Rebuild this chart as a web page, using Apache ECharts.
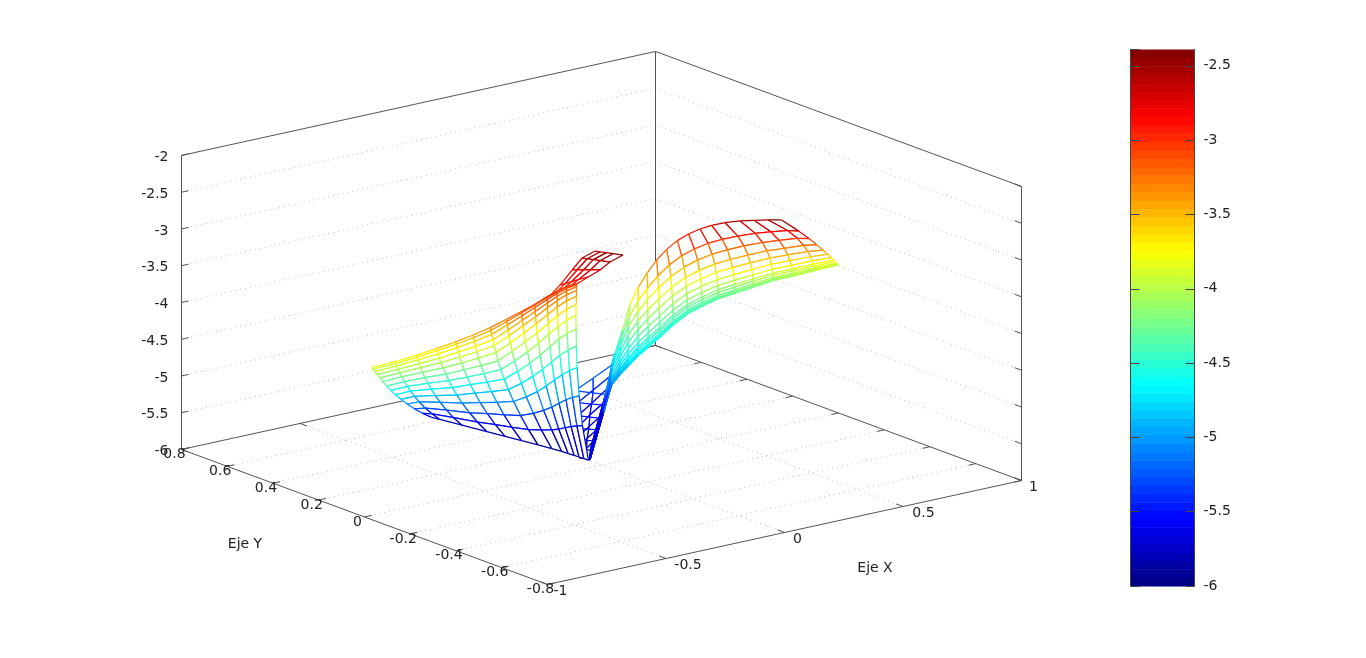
<!DOCTYPE html><html><head><meta charset="utf-8"><style>html,body{margin:0;background:#fff}#c{width:1366px;height:658px}</style>
<script src="https://cdn.jsdelivr.net/npm/echarts@6/dist/echarts.min.js"></script></head><body><div id="c"></div><script>
const zTicks=[-2,-2.5,-3,-3.5,-4,-4.5,-5,-5.5,-6];
const xTicks=[-1,-0.5,0,0.5,1];
const yTicks=[0.8,0.6,0.4,0.2,0,-0.2,-0.4,-0.6,-0.8];
const colorbarMin=-6,colorbarMax=-2.39;
const leftRows=14;
const leftX=[-1.015,-1.003,-.979,-.953,-.922,-.883,-.840,-.787,-.732,-.666,-.588,-.488,-.382,-.266,
-.965,-.950,-.929,-.901,-.869,-.830,-.782,-.730,-.677,-.609,-.536,-.443,-.345,-.233,
-.913,-.894,-.870,-.841,-.808,-.768,-.721,-.669,-.613,-.553,-.478,-.391,-.294,-.189,
-.854,-.832,-.805,-.774,-.739,-.703,-.656,-.605,-.550,-.492,-.426,-.338,-.252,-.154,
-.818,-.793,-.763,-.729,-.692,-.650,-.603,-.552,-.503,-.442,-.374,-.298,-.213,-.124,
-.767,-.738,-.705,-.668,-.630,-.587,-.539,-.489,-.441,-.382,-.322,-.246,-.172,-.090,
-.719,-.681,-.645,-.606,-.571,-.528,-.481,-.431,-.379,-.328,-.267,-.202,-.135,-.061,
-.672,-.644,-.610,-.575,-.535,-.493,-.450,-.401,-.352,-.301,-.248,-.179,-.114,-.040,
-.627,-.601,-.574,-.537,-.501,-.460,-.415,-.371,-.324,-.279,-.223,-.157,-.096,-.024,
-.576,-.558,-.528,-.493,-.460,-.425,-.381,-.337,-.297,-.250,-.197,-.138,-.082,-.017,
-.518,-.502,-.474,-.441,-.412,-.370,-.333,-.293,-.253,-.210,-.169,-.118,-.066,-.009,
-.450,-.433,-.413,-.382,-.350,-.317,-.274,-.239,-.203,-.167,-.131,-.090,-.047,-.002,
-.395,-.382,-.359,-.331,-.301,-.265,-.232,-.193,-.160,-.129,-.103,-.071,-.038,-.001,
-.318,-.309,-.285,-.260,-.233,-.200,-.166,-.139,-.109,-.084,-.067,-.048,-.029,.001];
const leftY=[-.047,-.040,-.023,-.006,.014,.041,.068,.105,.142,.187,.240,.311,.386,.467,
-.097,-.085,-.067,-.044,-.019,.013,.051,.093,.133,.186,.241,.310,.383,.465,
-.138,-.121,-.100,-.075,-.047,-.014,.024,.065,.109,.153,.209,.272,.342,.414,
-.164,-.144,-.121,-.094,-.064,-.037,.000,.040,.081,.122,.167,.226,.281,.341,
-.212,-.188,-.160,-.130,-.098,-.063,-.024,.015,.051,.095,.142,.190,.243,.293,
-.234,-.206,-.175,-.142,-.108,-.071,-.033,.007,.042,.085,.123,.171,.213,.256,
-.260,-.223,-.189,-.154,-.123,-.085,-.046,-.007,.032,.067,.107,.144,.179,.214,
-.281,-.254,-.221,-.188,-.150,-.113,-.076,-.036,.002,.038,.071,.112,.144,.176,
-.301,-.274,-.248,-.211,-.176,-.138,-.097,-.061,-.023,.011,.049,.090,.118,.149,
-.307,-.287,-.257,-.221,-.189,-.155,-.114,-.074,-.040,-.002,.037,.074,.102,.128,
-.299,-.283,-.255,-.221,-.191,-.149,-.113,-.073,-.037,-.000,.030,.063,.090,.110,
-.274,-.256,-.235,-.203,-.170,-.135,-.092,-.058,-.024,.009,.036,.062,.084,.096,
-.257,-.243,-.220,-.190,-.159,-.122,-.088,-.048,-.016,.012,.033,.053,.068,.076,
-.221,-.212,-.187,-.160,-.132,-.098,-.061,-.032,-.002,.023,.037,.048,.053,.058];
const leftZ=[-3.9,-3.94,-4.01,-4.09,-4.18,-4.29,-4.41,-4.55,-4.69,-4.85,-5.03,-5.25,-5.47,-5.7,
-3.8,-3.85,-3.92,-4.01,-4.11,-4.23,-4.37,-4.52,-4.67,-4.85,-5.04,-5.27,-5.5,-5.75,
-3.7,-3.76,-3.84,-3.94,-4.05,-4.18,-4.33,-4.49,-4.66,-4.84,-5.05,-5.29,-5.54,-5.8,
-3.62,-3.69,-3.78,-3.89,-4.01,-4.14,-4.3,-4.47,-4.65,-4.84,-5.05,-5.31,-5.56,-5.83,
-3.5,-3.58,-3.68,-3.8,-3.93,-4.08,-4.25,-4.43,-4.61,-4.82,-5.05,-5.31,-5.58,-5.86,
-3.42,-3.51,-3.62,-3.75,-3.89,-4.05,-4.23,-4.42,-4.61,-4.83,-5.06,-5.34,-5.61,-5.9,
-3.32,-3.43,-3.55,-3.69,-3.83,-4,-4.19,-4.39,-4.6,-4.82,-5.07,-5.35,-5.63,-5.93,
-3.22,-3.3,-3.41,-3.54,-3.69,-3.86,-4.05,-4.26,-4.48,-4.72,-4.98,-5.3,-5.61,-5.95,
-3.12,-3.19,-3.28,-3.41,-3.55,-3.72,-3.92,-4.13,-4.36,-4.61,-4.9,-5.25,-5.59,-5.97,
-3.05,-3.1,-3.19,-3.31,-3.44,-3.6,-3.8,-4.02,-4.25,-4.52,-4.83,-5.2,-5.57,-5.98,
-3,-3.04,-3.12,-3.23,-3.35,-3.52,-3.71,-3.93,-4.17,-4.45,-4.76,-5.15,-5.55,-5.99,
-3,-3.04,-3.1,-3.2,-3.32,-3.47,-3.67,-3.88,-4.12,-4.4,-4.72,-5.12,-5.54,-6,
-3,-3.03,-3.09,-3.18,-3.29,-3.44,-3.62,-3.84,-4.08,-4.36,-4.68,-5.09,-5.52,-6,
-3.05,-3.07,-3.13,-3.21,-3.31,-3.45,-3.63,-3.83,-4.07,-4.35,-4.67,-5.08,-5.51,-6];
const rightRows=13;
const rightX=[.336,.465,.560,.646,.720,.786,.835,.877,.896,.921,.937,.946,.954,
.327,.471,.562,.644,.706,.760,.803,.831,.850,.869,.881,.888,.894,
.313,.444,.530,.604,.661,.709,.748,.778,.796,.813,.824,.829,.835,
.298,.418,.503,.571,.627,.671,.706,.734,.750,.765,.776,.781,.785,
.272,.384,.461,.522,.573,.618,.650,.675,.689,.709,.718,.722,.727,
.260,.361,.426,.481,.528,.571,.600,.623,.637,.650,.659,.663,.667,
.240,.326,.391,.443,.487,.522,.550,.572,.585,.598,.606,.610,.614,
.226,.303,.353,.400,.437,.469,.495,.511,.523,.535,.543,.547,.551,
.228,.289,.330,.365,.399,.420,.445,.455,.467,.474,.481,.485,.488,
.190,.238,.274,.300,.326,.350,.363,.378,.384,.395,.396,.400,.403,
.140,.176,.203,.226,.250,.267,.279,.287,.298,.303,.305,.308,.311,
.104,.130,.153,.173,.188,.202,.215,.224,.225,.231,.238,.237,.240,
.080,.104,.123,.138,.149,.161,.173,.180,.188,.190,.193,.192,.196,
.089,.101,.106,.118,.123,.131,.136,.141,.140,.145,.149,.149,.148,
.102,.099,.100,.106,.104,.108,.112,.113,.112,.115,.112,.113,.114,
.098,.088,.083,.081,.080,.077,.074,.076,.073,.075,.074,.071,.073,
.134,.113,.100,.091,.080,.078,.069,.064,.063,.062,.058,.061,.059,
.057,.041,.031,.025,.018,.018,.011,.008,.007,.007,.004,.007,.005];
const rightY=[-.439,-.381,-.327,-.272,-.222,-.174,-.139,-.106,-.092,-.073,-.060,-.054,-.047,
-.390,-.325,-.273,-.216,-.170,-.126,-.089,-.065,-.048,-.030,-.019,-.013,-.007,
-.342,-.280,-.227,-.174,-.130,-.089,-.055,-.028,-.011,.005,.016,.021,.026,
-.297,-.239,-.182,-.132,-.086,-.047,-.015,.011,.027,.042,.053,.058,.063,
-.258,-.198,-.145,-.099,-.057,-.016,.013,.037,.052,.071,.080,.085,.089,
-.212,-.154,-.109,-.065,-.025,.014,.041,.064,.077,.090,.099,.103,.107,
-.182,-.128,-.078,-.036,.004,.035,.062,.084,.096,.109,.117,.121,.125,
-.146,-.092,-.054,-.013,.019,.050,.075,.090,.102,.114,.122,.126,.130,
-.095,-.051,-.019,.011,.043,.062,.087,.096,.108,.114,.122,.126,.129,
-.088,-.050,-.019,.004,.029,.052,.064,.078,.084,.095,.097,.100,.104,
-.096,-.064,-.039,-.017,.007,.023,.035,.043,.054,.059,.060,.063,.067,
-.093,-.066,-.042,-.023,-.007,.006,.019,.029,.029,.035,.042,.041,.044,
-.078,-.051,-.031,-.015,-.005,.008,.019,.026,.034,.036,.039,.038,.042,
-.032,-.015,-.007,.006,.012,.019,.025,.029,.029,.033,.037,.037,.036,
.013,.017,.021,.029,.028,.032,.036,.037,.035,.039,.036,.037,.038,
.043,.041,.039,.039,.039,.036,.033,.035,.031,.033,.032,.029,.032,
.109,.099,.091,.084,.075,.074,.065,.059,.058,.057,.052,.055,.053,
.087,.083,.078,.074,.068,.069,.062,.059,.058,.058,.054,.058,.056];
const rightZ=[-2.4,-2.71,-2.94,-3.15,-3.33,-3.49,-3.61,-3.71,-3.76,-3.82,-3.86,-3.88,-3.9,
-2.45,-2.77,-3,-3.22,-3.4,-3.56,-3.69,-3.78,-3.84,-3.9,-3.94,-3.96,-3.98,
-2.5,-2.82,-3.06,-3.28,-3.46,-3.62,-3.75,-3.85,-3.91,-3.97,-4.01,-4.03,-4.05,
-2.55,-2.87,-3.12,-3.34,-3.53,-3.69,-3.82,-3.92,-3.98,-4.04,-4.08,-4.1,-4.12,
-2.6,-2.93,-3.18,-3.4,-3.59,-3.76,-3.89,-3.99,-4.05,-4.12,-4.16,-4.18,-4.2,
-2.68,-3.01,-3.25,-3.47,-3.66,-3.83,-3.96,-4.06,-4.12,-4.18,-4.22,-4.24,-4.26,
-2.75,-3.07,-3.32,-3.54,-3.73,-3.89,-4.02,-4.12,-4.18,-4.24,-4.28,-4.3,-4.32,
-2.85,-3.17,-3.4,-3.62,-3.8,-3.96,-4.09,-4.18,-4.24,-4.3,-4.34,-4.36,-4.38,
-3,-3.3,-3.52,-3.72,-3.9,-4.04,-4.17,-4.25,-4.31,-4.36,-4.4,-4.42,-4.44,
-3.1,-3.39,-3.61,-3.8,-3.97,-4.12,-4.23,-4.32,-4.37,-4.43,-4.46,-4.48,-4.5,
-3.2,-3.48,-3.69,-3.88,-4.05,-4.19,-4.3,-4.38,-4.44,-4.49,-4.52,-4.54,-4.56,
-3.35,-3.61,-3.81,-3.99,-4.14,-4.27,-4.38,-4.46,-4.5,-4.55,-4.59,-4.6,-4.62,
-3.55,-3.79,-3.97,-4.13,-4.26,-4.38,-4.48,-4.55,-4.6,-4.64,-4.67,-4.68,-4.7,
-3.85,-4.05,-4.19,-4.33,-4.44,-4.54,-4.62,-4.68,-4.71,-4.75,-4.78,-4.79,-4.8,
-4.25,-4.38,-4.48,-4.58,-4.65,-4.72,-4.78,-4.82,-4.84,-4.87,-4.88,-4.89,-4.9,
-4.6,-4.68,-4.74,-4.8,-4.85,-4.89,-4.92,-4.95,-4.96,-4.98,-4.99,-4.99,-5,
-5.2,-5.24,-5.27,-5.3,-5.32,-5.35,-5.36,-5.37,-5.38,-5.39,-5.39,-5.4,-5.4,
-5.8,-5.84,-5.87,-5.9,-5.92,-5.95,-5.96,-5.97,-5.98,-5.99,-5.99,-6,-6];
const lowRows=3;
const lowX=[.056,.204,.374,.044,.200,.346,.017,.153,.302,-.014,.117,.252,-.033,.084,.201,-.050,.048,.149,-.042,.027,.109,-.025,-.012,-.011];
const lowY=[.181,.248,.329,.161,.243,.319,.126,.201,.286,.094,.172,.246,.075,.141,.207,.054,.112,.168,.057,.093,.142,.068,.060,.039];
const lowZ=[-5.25,-5.25,-5.25,-5.4,-5.4,-5.4,-5.5,-5.5,-5.5,-5.6,-5.6,-5.6,-5.7,-5.7,-5.7,-5.8,-5.8,-5.8,-5.9,-5.9,-5.9,-5.97,-5.97,-5.97];
const capRows=5;
const capX=[-.335,-.324,-.315,-.309,-.301,-.367,-.356,-.347,-.341,-.333,-.371,-.371,-.368,-.369,-.366,-.374,-.394,-.406,-.419,-.427,-.375,-.421,-.449,-.478,-.499];
const capY=[-.441,-.387,-.347,-.314,-.284,-.417,-.363,-.323,-.290,-.260,-.378,-.335,-.302,-.275,-.251,-.329,-.306,-.288,-.275,-.261,-.281,-.284,-.282,-.284,-.283];
const capZ=[-2.4,-2.45,-2.49,-2.52,-2.55,-2.5,-2.55,-2.59,-2.62,-2.65,-2.65,-2.7,-2.74,-2.77,-2.8,-2.8,-2.85,-2.89,-2.92,-2.95,-2.95,-2.98,-3.01,-3.03,-3.05];
const rungX=[.116,.175,.091,.145,.053,.096,.014,.058,-.017,.026,-.034,.007];
const rungY=[.243,.163,.203,.142,.160,.102,.121,.074,.088,.051,.068,.043];
const rungZ=[-5.35,-5.35,-5.45,-5.45,-5.55,-5.55,-5.65,-5.65,-5.75,-5.75,-5.85,-5.85];

const P=(x,y,z)=>[547.5+237*(x+1)-228.75*(y+0.8),584.5-52*(x+1)-84.4*(y+0.8)-73.5*(z+6)];
function jet(i){const t=(i+.5)/64,c=v=>Math.round(255*Math.max(0,Math.min(1,v)));return `rgb(${c(1.5-Math.abs(4*t-3))},${c(1.5-Math.abs(4*t-2))},${c(1.5-Math.abs(4*t-1))})`}
const colorOf=z=>jet(Math.max(0,Math.min(63,Math.floor((z-colorbarMin)/(colorbarMax-colorbarMin)*64))));
const qs=(X,Y,Z,n)=>{const q=[],m=X.length/n,V=(i,j)=>{const k=i*n+j;return [X[k],Y[k],Z[k]]};for(let i=0;i+1<m;i++)for(let j=0;j+1<n;j++)q.push([...V(i,j),...V(i+1,j),...V(i+1,j+1),...V(i,j+1)]);return q};
const rungs=rungX.reduce((a,_,k)=>{if(k%2==0)a.push([rungX[k],rungY[k],rungZ[k],rungX[k+1],rungY[k+1],rungZ[k+1]]);return a},[]);
const solid=[],dots=[];const zb=-6,zt=-2;
[[[-1,.8,zb],[-1,-.8,zb]],[[-1,-.8,zb],[1,-.8,zb]],[[1,-.8,zb],[1,.8,zb]],[[1,.8,zb],[-1,.8,zb]],[[-1,.8,zb],[-1,.8,zt]],[[1,.8,zb],[1,.8,zt]],[[1,-.8,zb],[1,-.8,zt]],[[-1,.8,zt],[1,.8,zt]],[[1,.8,zt],[1,-.8,zt]]].forEach(s=>solid.push([...s[0],...s[1]]));
zTicks.forEach(z=>{if(z>-6&&z<-2){dots.push([-1,.8,z,1,.8,z],[1,.8,z,1,-.8,z])}solid.push([-1,.8,z,-.97,.8,z],[1,-.8,z,1,-.77,z])});
xTicks.slice(1,4).forEach(x=>{dots.push([x,-.8,zb,x,.8,zb])});xTicks.forEach(x=>solid.push([x,-.8,zb,x,-.77,zb],[x,.8,zb,x,.77,zb]));
yTicks.slice(1,8).forEach(y=>{dots.push([-1,y,zb,1,y,zb])});yTicks.forEach(y=>solid.push([-1,y,zb,-.97,y,zb],[1,y,zb,.97,y,zb]));
const labels=[];zTicks.forEach(z=>{const p=P(-1,.8,z);labels.push([p[0]-13,p[1]+2,String(z),'right'])});
const xo=[13,22,13,20.5,12];xTicks.forEach((x,i)=>{const p=P(x,-.8,-6);labels.push([p[0]+xo[i],p[1]+7,String(x),'center'])});
yTicks.forEach(y=>{const p=P(-1,y,-6);labels.push([p[0]-7,p[1]+5,String(y),'center'])});
labels.push([245,544,'Eje Y','center'],[875,568,'Eje X','center']);
const seg=(s,stroke,dash,w)=>({type:'custom',coordinateSystem:'cartesian2d',xAxisIndex:0,yAxisIndex:0,silent:true,animation:false,data:s,encode:{x:0,y:1},renderItem:(p,api)=>{const A=api.coord(P(api.value(0),api.value(1),api.value(2))),B=api.coord(P(api.value(3),api.value(4),api.value(5)));return {type:'line',shape:{x1:A[0],y1:A[1],x2:B[0],y2:B[1]},style:{stroke:stroke||colorOf(api.value(2)),lineWidth:w||1,lineDash:dash||null,fill:null}}}});
const mesh=q=>({type:'custom',coordinateSystem:'cartesian2d',xAxisIndex:0,yAxisIndex:0,silent:true,animation:false,data:q,encode:{x:0,y:1},renderItem:(p,api)=>{const v=[0,1,2,3].map(k=>[api.value(k*3),api.value(k*3+1),api.value(k*3+2)]);const c=v.map(q=>api.coord(P(q[0],q[1],q[2])));const ch=[{type:'polygon',shape:{points:c},style:{fill:'#fff',stroke:null}}];for(let k=0;k<4;k++){const n=(k+1)%4;ch.push({type:'line',shape:{x1:c[k][0],y1:c[k][1],x2:c[n][0],y2:c[n][1]},style:{stroke:colorOf((v[k][2]+v[n][2])/2),lineWidth:1.25,fill:null}})}return {type:'group',children:ch}}});
const text={type:'custom',coordinateSystem:'cartesian2d',xAxisIndex:0,yAxisIndex:0,silent:true,animation:false,z:5,data:labels.map(l=>[l[0],l[1]]),encode:{x:0,y:1},renderItem:(p,api)=>{const l=labels[p.dataIndex],c=api.coord([l[0],l[1]]);return {type:'text',style:{x:c[0],y:c[1],text:l[2],fill:'#222',font:'14px "DejaVu Sans"',textAlign:l[3],textVerticalAlign:'middle'}}}};
const bands=Array.from({length:64},(_,i)=>[i,colorbarMin+i*(colorbarMax-colorbarMin)/64,colorbarMin+(i+1)*(colorbarMax-colorbarMin)/64]);
const bar={type:'custom',coordinateSystem:'cartesian2d',xAxisIndex:1,yAxisIndex:1,silent:true,animation:false,z:1,data:bands,encode:{y:[1,2]},renderItem:(p,api)=>{const a=api.coord([0,api.value(1)]),b=api.coord([1,api.value(2)]);return {type:'rect',shape:{x:a[0],y:b[1],width:b[0]-a[0],height:a[1]-b[1]+.5},style:{fill:jet(api.value(0))}}}};
const ch=echarts.init(document.getElementById('c'),null,{renderer:'canvas'});
ch.setOption({animation:false,backgroundColor:'#fff',
grid:[{left:0,top:0,width:1366,height:658},{left:1130.5,top:49.5,width:64,height:536.5,z:3}],
xAxis:[{type:'value',min:0,max:1366,show:false,gridIndex:0},{type:'value',min:0,max:1,show:false,gridIndex:1}],
yAxis:[{type:'value',min:0,max:658,inverse:true,show:false,gridIndex:0},
{type:'value',gridIndex:1,min:-6,max:colorbarMax,interval:.5,position:'right',z:6,splitLine:{show:false},axisLine:{show:true,onZero:false,lineStyle:{color:'#444'}},axisTick:{show:true,inside:true,length:9,lineStyle:{color:'#444'}},axisLabel:{margin:9,padding:[6,0,0,0],color:'#222',fontFamily:'DejaVu Sans',fontSize:14,showMinLabel:true,showMaxLabel:false,formatter:v=>String(+v.toFixed(1))}},
{type:'value',gridIndex:1,min:-6,max:colorbarMax,interval:.5,position:'left',z:6,splitLine:{show:false},axisLine:{show:true,onZero:false,lineStyle:{color:'#444'}},axisTick:{show:true,inside:true,length:9,lineStyle:{color:'#444'}},axisLabel:{show:false}}],
series:[seg(dots,'#bdbdbd',[1,4]),seg(solid,'#555'),mesh(qs(lowX,lowY,lowZ,lowRows)),seg(rungs,null,null,1.25),mesh(qs(rightX,rightY,rightZ,rightRows)),mesh(qs(capX,capY,capZ,capRows)),mesh(qs(leftX,leftY,leftZ,leftRows)),text,bar]});
</script></body></html>
